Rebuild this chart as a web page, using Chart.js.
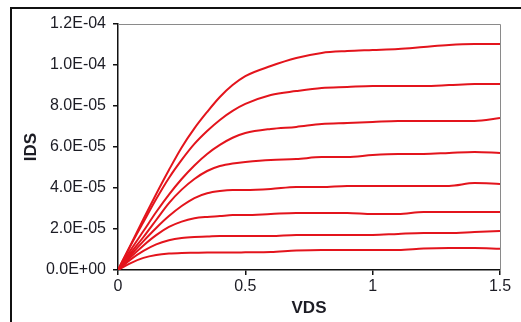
<!DOCTYPE html>
<html>
<head>
<meta charset="utf-8">
<script src="https://cdn.jsdelivr.net/npm/chart.js@4.4.1/dist/chart.umd.min.js"></script>
<style>
  html, body { margin: 0; padding: 0; background: #fff; }
  canvas { display: block; }
</style>
</head>
<body>
<canvas id="ivChart" width="521" height="322"></canvas>
<script>
// VDS sweep points (V)
const vds = [0, 0.05, 0.1, 0.15, 0.2, 0.25, 0.3, 0.35, 0.4, 0.45, 0.5, 0.6, 0.7, 0.8, 0.9, 1.0, 1.1, 1.2, 1.3, 1.4, 1.5];

// IDS (A) for each gate step, top curve first
const ids1 = [0, 1.24e-5, 2.49e-5, 3.71e-5, 4.88e-5, 5.98e-5, 6.91e-5, 7.71e-5, 8.44e-5, 9.02e-5, 9.46e-5, 9.95e-5, 10.34e-5, 10.59e-5, 10.68e-5, 10.73e-5, 10.78e-5, 10.88e-5, 10.98e-5, 11.02e-5, 11.02e-5];
const ids2 = [0, 1.20e-5, 2.34e-5, 3.46e-5, 4.49e-5, 5.37e-5, 6.15e-5, 6.78e-5, 7.32e-5, 7.76e-5, 8.10e-5, 8.54e-5, 8.73e-5, 8.88e-5, 8.93e-5, 8.98e-5, 8.98e-5, 8.98e-5, 9.02e-5, 9.07e-5, 9.07e-5];
const ids3 = [0, 0.98e-5, 1.90e-5, 2.83e-5, 3.68e-5, 4.44e-5, 5.10e-5, 5.66e-5, 6.10e-5, 6.45e-5, 6.68e-5, 6.88e-5, 6.98e-5, 7.12e-5, 7.17e-5, 7.22e-5, 7.27e-5, 7.27e-5, 7.27e-5, 7.27e-5, 7.41e-5];
const ids4 = [0, 0.83e-5, 1.61e-5, 2.44e-5, 3.26e-5, 3.92e-5, 4.44e-5, 4.83e-5, 5.07e-5, 5.20e-5, 5.27e-5, 5.37e-5, 5.41e-5, 5.51e-5, 5.51e-5, 5.61e-5, 5.66e-5, 5.66e-5, 5.71e-5, 5.76e-5, 5.71e-5];
const ids5 = [0, 0.73e-5, 1.41e-5, 2.05e-5, 2.63e-5, 3.12e-5, 3.51e-5, 3.74e-5, 3.85e-5, 3.90e-5, 3.90e-5, 3.95e-5, 4.05e-5, 4.05e-5, 4.10e-5, 4.10e-5, 4.10e-5, 4.10e-5, 4.10e-5, 4.24e-5, 4.20e-5];
const ids6 = [0, 0.63e-5, 1.20e-5, 1.70e-5, 2.10e-5, 2.36e-5, 2.52e-5, 2.59e-5, 2.63e-5, 2.68e-5, 2.68e-5, 2.73e-5, 2.78e-5, 2.78e-5, 2.78e-5, 2.73e-5, 2.73e-5, 2.83e-5, 2.83e-5, 2.83e-5, 2.83e-5];
const ids7 = [0, 0.52e-5, 0.93e-5, 1.25e-5, 1.45e-5, 1.56e-5, 1.61e-5, 1.63e-5, 1.66e-5, 1.66e-5, 1.66e-5, 1.66e-5, 1.71e-5, 1.71e-5, 1.71e-5, 1.71e-5, 1.76e-5, 1.80e-5, 1.80e-5, 1.85e-5, 1.90e-5];
const ids8 = [0, 0.34e-5, 0.59e-5, 0.73e-5, 0.80e-5, 0.83e-5, 0.84e-5, 0.85e-5, 0.85e-5, 0.85e-5, 0.86e-5, 0.88e-5, 0.95e-5, 0.98e-5, 0.98e-5, 0.98e-5, 0.98e-5, 1.05e-5, 1.07e-5, 1.07e-5, 1.04e-5];

const curves = [ids1, ids2, ids3, ids4, ids5, ids6, ids7, ids8];

const xTicks = [0, 0.5, 1, 1.5];
const yMax = 1.2e-4;
const yStep = 2e-5;

const TEXT = '#1c1c24';
const RED = '#e3141c';

// Excel style 1.2E-04
function sciLabel(v) {
  const parts = Number(v).toExponential(1).split('e');
  let exp = parts[1];
  const sign = exp[0] === '-' ? '-' : '+';
  exp = exp.replace(/^[-+]/, '');
  if (exp.length < 2) exp = '0' + exp;
  return parts[0] + 'E' + sign + exp;
}

const framePlugin = {
  id: 'frame',
  beforeDatasetsDraw(chart) {
    const {ctx, chartArea} = chart;
    ctx.save();
    ctx.strokeStyle = '#8a8a8a';
    ctx.lineWidth = 1;
    ctx.beginPath();
    ctx.moveTo(chartArea.left, chartArea.top + 0.5);
    ctx.lineTo(chartArea.right + 0.5, chartArea.top + 0.5);
    ctx.lineTo(chartArea.right + 0.5, chartArea.bottom);
    ctx.stroke();
    ctx.restore();
  },
  afterDraw(chart) {
    const ctx = chart.ctx;
    ctx.save();
    ctx.strokeStyle = '#111';
    ctx.lineWidth = 2;
    ctx.beginPath();
    ctx.moveTo(11, 322);
    ctx.lineTo(11, 8);
    ctx.lineTo(521, 8);
    ctx.stroke();
    ctx.restore();
  }
};

function initChart() {
  const ctx = document.getElementById('ivChart').getContext('2d');
  new Chart(ctx, {
    type: 'line',
    data: {
      datasets: curves.map((c, i) => ({
        label: 'VGS ' + (i + 1),
        data: vds.map((v, j) => ({x: v, y: c[j]})),
        borderColor: RED,
        borderWidth: 2,
        pointRadius: 0,
        fill: false,
        cubicInterpolationMode: 'monotone'
      }))
    },
    options: {
      responsive: false,
      animation: false,
      layout: {padding: {top: 24, right: 21, left: 0, bottom: 0}},
      plugins: {legend: {display: false}, tooltip: {enabled: false}},
      scales: {
        x: {
          type: 'linear',
          min: 0,
          max: 1.5,
          afterBuildTicks: (s) => { s.ticks = xTicks.map(v => ({value: v})); },
          afterFit: (s) => { s.height = 52; },
          ticks: {color: TEXT, padding: 2, callback: (v) => String(v),
                  font: {family: 'Liberation Sans', size: 16}},
          grid: {display: true, drawOnChartArea: false, drawTicks: true, tickLength: 5, color: '#111', lineWidth: 1.5},
          border: {display: true, color: '#111', width: 1.5},
          title: {display: true, text: 'VDS', color: TEXT, padding: {top: 0, bottom: 3},
                  font: {family: 'Liberation Sans', size: 17, weight: 'bold'}}
        },
        y: {
          min: 0,
          max: yMax,
          ticks: {stepSize: yStep, color: TEXT, padding: 7, callback: sciLabel,
                  font: {family: 'Liberation Sans', size: 16}},
          afterFit: (s) => { s.width = 118; },
          grid: {display: true, drawOnChartArea: false, drawTicks: true, tickLength: 5, color: '#111', lineWidth: 1.5},
          border: {display: true, color: '#111', width: 1.5},
          title: {display: true, text: 'IDS', color: TEXT, padding: {top: 21, bottom: 0},
                  font: {family: 'Liberation Sans', size: 17, weight: 'bold'}}
        }
      }
    },
    plugins: [framePlugin]
  });
}

window.addEventListener('load', initChart);
</script>
</body>
</html>
